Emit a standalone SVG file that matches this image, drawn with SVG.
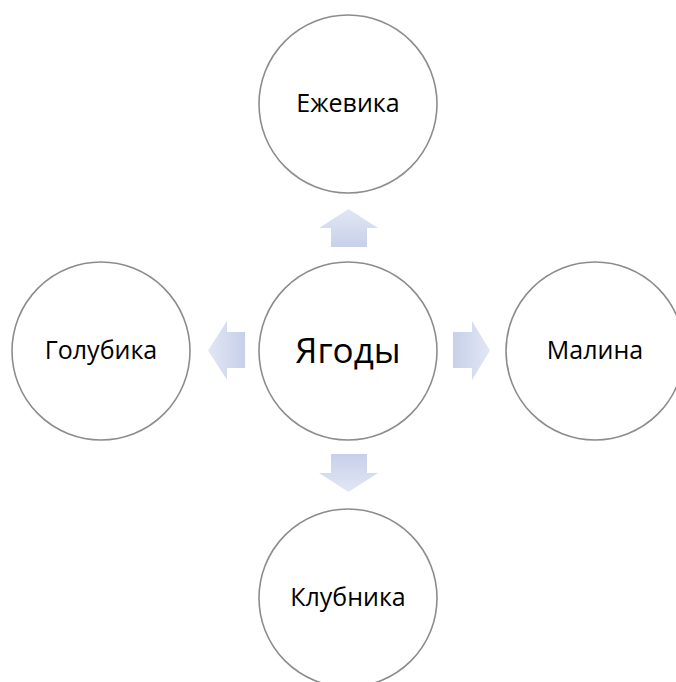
<svg xmlns="http://www.w3.org/2000/svg" width="676" height="682" viewBox="0 0 676 682">
<style>
.node circle{fill:#fff;stroke:#8c8c8c;stroke-width:1.6}
.node text{font-family:"Open Sans","Liberation Sans",sans-serif;fill:#000;text-anchor:middle}
.lbl{font-size:25px}
.big{font-size:35px}
.arr{stroke:none}
</style>
<defs>
<linearGradient id="gUp" x1="0" y1="0" x2="0" y2="1"><stop offset="0" stop-color="#e2e7f4"/><stop offset="1" stop-color="#c7d0ea"/></linearGradient>
<linearGradient id="gDown" x1="0" y1="1" x2="0" y2="0"><stop offset="0" stop-color="#e2e7f4"/><stop offset="1" stop-color="#c7d0ea"/></linearGradient>
<linearGradient id="gLeft" x1="0" y1="0" x2="1" y2="0"><stop offset="0" stop-color="#e2e7f4"/><stop offset="1" stop-color="#c7d0ea"/></linearGradient>
<linearGradient id="gRight" x1="1" y1="0" x2="0" y2="0"><stop offset="0" stop-color="#e2e7f4"/><stop offset="1" stop-color="#c7d0ea"/></linearGradient>
</defs>
<rect width="676" height="682" fill="#fff"/>
<g id="connectors">
<polygon class="arr" fill="url(#gUp)" points="348.5,209 378,228 367,228 367,247 331,247 331,228 319,228"/>
<polygon class="arr" fill="url(#gDown)" points="348.5,492 378,473 367,473 367,454 331,454 331,473 319,473"/>
<polygon class="arr" fill="url(#gLeft)" points="208,350.5 227,321 227,332 245,332 245,368 227,368 227,380"/>
<polygon class="arr" fill="url(#gRight)" points="490,350.5 472,321 472,332 453,332 453,368 472,368 472,380"/>
</g>
<g id="node-center" class="node"><circle cx="348" cy="351" r="89"/><text class="big" x="348" y="363">Ягоды</text></g>
<g id="node-top" class="node"><circle cx="348" cy="104" r="89"/><text class="lbl" x="348" y="112">Ежевика</text></g>
<g id="node-left" class="node"><circle cx="101" cy="351" r="89"/><text class="lbl" x="101" y="359">Голубика</text></g>
<g id="node-right" class="node"><circle cx="595" cy="351" r="89"/><text class="lbl" x="595" y="359">Малина</text></g>
<g id="node-bottom" class="node"><circle cx="348" cy="598" r="89"/><text class="lbl" x="348" y="606">Клубника</text></g>
</svg>
